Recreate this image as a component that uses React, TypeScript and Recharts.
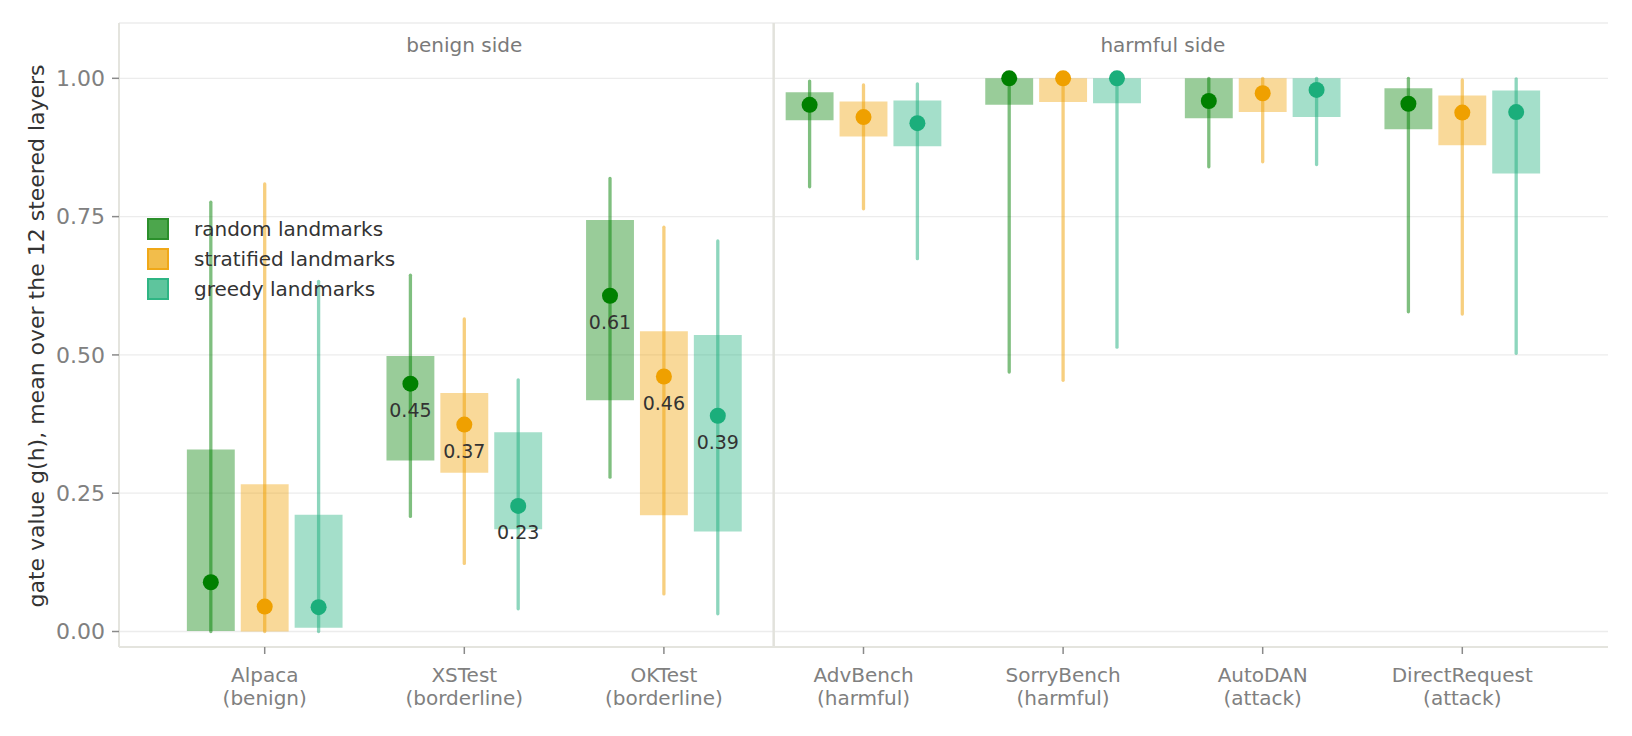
import React from 'react';
import {
  ComposedChart, XAxis, YAxis, CartesianGrid, Scatter, ReferenceArea,
  ReferenceLine, ReferenceDot, Legend,
} from 'recharts';

// ---------- data ----------
const catNames = ['Alpaca', 'XSTest', 'OKTest', 'AdvBench', 'SorryBench', 'AutoDAN', 'DirectRequest'];
const catKinds = ['(benign)', '(borderline)', '(borderline)', '(harmful)', '(harmful)', '(attack)', '(attack)'];
const showValue = [false, true, true, false, false, false, false];

const seriesNames = ['random landmarks', 'stratified landmarks', 'greedy landmarks'];
const seriesColors = ['#008000', '#EFA000', '#1BAE7B'];
const legendFill = ['#4ca64c', '#f2bd4b', '#5ec59d'];
const legendEdge = ['#2b8f2b', '#f0a818', '#2fb584'];
const seriesOffsets = [-0.27, 0, 0.27];

const randomMed = [0.089, 0.448, 0.607, 0.952, 1.0, 0.959, 0.954];
const randomQ1 = [0.001, 0.309, 0.418, 0.924, 0.952, 0.928, 0.908];
const randomQ3 = [0.329, 0.498, 0.744, 0.975, 1.0, 1.0, 0.982];
const randomLo = [0.0, 0.208, 0.279, 0.804, 0.469, 0.84, 0.578];
const randomHi = [0.776, 0.644, 0.819, 0.995, 1.0, 1.0, 1.0];

const stratMed = [0.045, 0.374, 0.461, 0.93, 1.0, 0.973, 0.938];
const stratQ1 = [0.0, 0.287, 0.21, 0.895, 0.957, 0.939, 0.879];
const stratQ3 = [0.266, 0.431, 0.543, 0.958, 1.0, 1.0, 0.969];
const stratLo = [0.0, 0.123, 0.068, 0.764, 0.454, 0.849, 0.574];
const stratHi = [0.809, 0.565, 0.731, 0.988, 1.0, 1.0, 0.997];

const greedyMed = [0.044, 0.227, 0.39, 0.919, 1.0, 0.979, 0.939];
const greedyQ1 = [0.007, 0.185, 0.181, 0.877, 0.955, 0.93, 0.828];
const greedyQ3 = [0.211, 0.36, 0.536, 0.96, 1.0, 1.0, 0.978];
const greedyLo = [0.0, 0.041, 0.032, 0.674, 0.514, 0.844, 0.503];
const greedyHi = [0.633, 0.455, 0.706, 0.99, 1.0, 1.0, 0.999];

const yTicks = [0, 0.25, 0.5, 0.75, 1.0];
const xTicks = [0, 1, 2, 3, 4, 5, 6];
const separatorX = 2.55;
const panelTitles = [
  { x: 1, text: 'benign side' },
  { x: 4.5, text: 'harmful side' },
];

const medians = [randomMed, stratMed, greedyMed];
const q1s = [randomQ1, stratQ1, greedyQ1];
const q3s = [randomQ3, stratQ3, greedyQ3];
const los = [randomLo, stratLo, greedyLo];
const his = [randomHi, stratHi, greedyHi];

const BOX_HALF = 0.12;
const FONT = '"DejaVu Sans", "Liberation Sans", sans-serif';

const scatterData = medians.map((med, s) =>
  med.map((v, i) => ({
    x: i + seriesOffsets[s],
    y: v,
    label: showValue[i] ? v.toFixed(2) : '',
  }))
);

const XTick = (props: any) => {
  const { x, y, payload } = props;
  const i = Math.round(payload.value);
  return (
    <g>
      <text x={x} y={y + 26} textAnchor="middle" fill="#808080" fontSize={20} fontFamily={FONT}>
        {catNames[i]}
      </text>
      <text x={x} y={y + 49} textAnchor="middle" fill="#808080" fontSize={20} fontFamily={FONT}>
        {catKinds[i]}
      </text>
    </g>
  );
};

const makeDot = (s: number) => (props: any) => {
  const { cx, cy, payload } = props;
  return (
    <g>
      <circle cx={cx} cy={cy} r={8} fill={seriesColors[s]} />
      {payload.label ? (
        <text x={cx} y={cy + 33.5} textAnchor="middle" fill="#333333" fontSize={19} fontFamily={FONT}>
          {payload.label}
        </text>
      ) : null}
    </g>
  );
};

const renderLegend = () => (
  <div style={{ fontFamily: FONT }}>
    {seriesNames.map((n, s) => (
      <div key={n} style={{ display: 'flex', alignItems: 'center', height: 30 }}>
        <div
          style={{
            width: 18, height: 18, background: legendFill[s],
            border: `2px solid ${legendEdge[s]}`, boxSizing: 'content-box',
          }}
        />
        <span style={{ marginLeft: 25, fontSize: 20, color: '#333333' }}>{n}</span>
      </div>
    ))}
  </div>
);

export default function App() {
  return (
    <div style={{ position: 'absolute', left: 0, top: 0, fontFamily: FONT, background: '#fff' }}>
      <ComposedChart
        width={1632}
        height={736}
        margin={{ top: 23, right: 24, bottom: 0, left: 0 }}
        style={{ fontFamily: FONT }}
      >
        <CartesianGrid vertical={false} stroke="#ececec" strokeWidth={1.3} />
        <XAxis
          type="number"
          dataKey="x"
          domain={[-0.73, 6.73]}
          ticks={xTicks}
          interval={0}
          allowDataOverflow
          height={89}
          tickSize={7}
          tickMargin={2}
          tick={<XTick />}
          axisLine={{ stroke: '#e4e4de', strokeWidth: 2 }}
          tickLine={{ stroke: '#8a8a8a', strokeWidth: 1.5 }}
        />
        <YAxis
          type="number"
          domain={[-0.028, 1.1]}
          ticks={yTicks}
          allowDataOverflow
          width={119}
          tickSize={7}
          tickMargin={7}
          tickFormatter={(v: number) => v.toFixed(2)}
          tick={{ fill: '#808080', fontSize: 22, fontFamily: FONT }}
          axisLine={{ stroke: '#e4e4de', strokeWidth: 2 }}
          tickLine={{ stroke: '#8a8a8a', strokeWidth: 1.5 }}
          label={{
            content: (p: any) => {
              const vb = p.viewBox || { x: 0, y: 23, width: 119, height: 624 };
              const cy = vb.y + vb.height / 2 + 1;
              const cx = 36;
              return (
                <text
                  x={cx}
                  y={cy}
                  transform={`rotate(-90, ${cx}, ${cy})`}
                  textAnchor="middle"
                  dominantBaseline="central"
                  fill="#333333"
                  fontSize={22}
                  fontFamily={FONT}
                >
                  gate value g(h), mean over the 12 steered layers
                </text>
              );
            },
          }}
        />
        <ReferenceLine x={separatorX} stroke="#e2e2dc" strokeWidth={2.5} />
        {panelTitles.map((t) => (
          <ReferenceDot
            key={t.text}
            x={t.x}
            y={1.1}
            r={1}
            fill="none"
            stroke="none"
            label={{
              content: (p: any) => {
                const vb = p.viewBox;
                const cx = vb.x + (vb.width || 0) / 2;
                const ty = vb.y + (vb.height || 0) / 2;
                return (
                  <text x={cx} y={ty + 29} textAnchor="middle" fill="#7a7a7a" fontSize={20} fontFamily={FONT}>
                    {t.text}
                  </text>
                );
              },
            }}
          />
        ))}
        {q1s.map((q1, s) =>
          q1.map((lo, i) => (
            <ReferenceArea
              key={`box-${s}-${i}`}
              x1={i + seriesOffsets[s] - BOX_HALF}
              x2={i + seriesOffsets[s] + BOX_HALF}
              y1={lo}
              y2={q3s[s][i]}
              fill={seriesColors[s]}
              fillOpacity={0.4}
              stroke="none"
              ifOverflow="visible"
            />
          ))
        )}
        {los.map((loArr, s) =>
          loArr.map((lo, i) => (
            <ReferenceLine
              key={`wh-${s}-${i}`}
              segment={[
                { x: i + seriesOffsets[s], y: lo },
                { x: i + seriesOffsets[s], y: his[s][i] },
              ]}
              stroke={seriesColors[s]}
              strokeOpacity={0.5}
              strokeWidth={3.3}
              strokeLinecap="round"
              ifOverflow="visible"
            />
          ))
        )}
        {scatterData.map((d, s) => (
          <Scatter
            key={seriesNames[s]}
            name={seriesNames[s]}
            data={d}
            dataKey="y"
            fill={seriesColors[s]}
            shape={makeDot(s)}
            isAnimationActive={false}
          />
        ))}
        <Legend
          layout="horizontal"
          verticalAlign="middle"
          align="center"
          wrapperStyle={{ left: 147, top: 214, width: 320, height: 92 }}
          content={renderLegend}
        />
      </ComposedChart>
    </div>
  );
}
